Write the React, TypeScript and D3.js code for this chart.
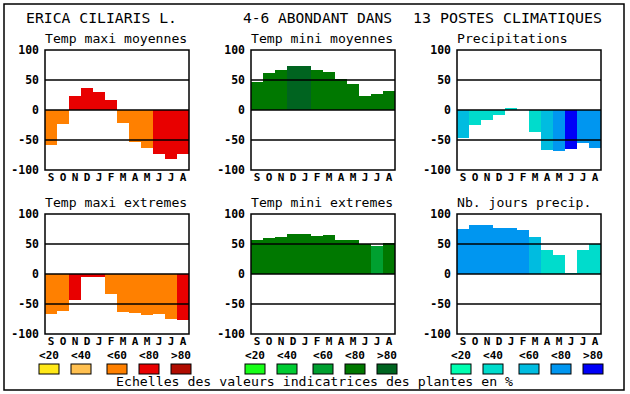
import React from "react";
import * as d3 from "d3";

const months = ["S", "O", "N", "D", "J", "F", "M", "A", "M", "J", "J", "A"];
const yTicks = [100, 50, 0, -50, -100];
const gridValues = [50, 0, -50];

const warmColors = ["#FFE818", "#FFC050", "#FF8000", "#E80000", "#B00C00"];
const greenColors = ["#18FF18", "#00CC33", "#00A030", "#007800", "#006420"];
const blueColors = ["#00FFB0", "#00DCCC", "#00BCE0", "#0096F0", "#0000F8"];
const classLabels = ["<20", "<40", "<60", "<80", ">80"];

// values and colour class index (0..4) per month
const tmaxMoyVals = [-58, -23, 23, 37, 30, 17, -21, -53, -64, -73, -81, -74];
const tmaxMoyCls = [2, 2, 3, 3, 3, 3, 2, 2, 2, 3, 3, 3];
const tminMoyVals = [47, 62, 67, 73, 73, 67, 63, 52, 43, 23, 27, 32];
const tminMoyCls = [3, 3, 3, 4, 4, 3, 3, 3, 3, 3, 3, 3];
const precVals = [-46, -25, -17, -8, 3, 0, -37, -67, -68, -65, -55, -63];
const precCls = [2, 1, 1, 1, 1, 1, 1, 2, 3, 4, 3, 3];
const tmaxExtVals = [-66, -62, -43, -5, -5, -33, -63, -65, -68, -67, -75, -77];
const tmaxExtCls = [2, 2, 3, 3, 3, 2, 2, 2, 2, 2, 2, 3];
const tminExtVals = [57, 60, 62, 67, 67, 63, 65, 57, 57, 50, 47, 52];
const tminExtCls = [3, 3, 3, 3, 3, 3, 3, 3, 3, 3, 2, 3];
const joursVals = [75, 82, 82, 77, 77, 73, 62, 40, 32, 2, 40, 50];
const joursCls = [3, 3, 3, 3, 3, 3, 2, 1, 1, 1, 1, 1];

const panels = [
  { title: "Temp maxi moyennes", vals: tmaxMoyVals, cls: tmaxMoyCls, pal: warmColors, col: 0, row: 0 },
  { title: "Temp mini moyennes", vals: tminMoyVals, cls: tminMoyCls, pal: greenColors, col: 1, row: 0 },
  { title: "Precipitations", vals: precVals, cls: precCls, pal: blueColors, col: 2, row: 0 },
  { title: "Temp maxi extremes", vals: tmaxExtVals, cls: tmaxExtCls, pal: warmColors, col: 0, row: 1 },
  { title: "Temp mini extremes", vals: tminExtVals, cls: tminExtCls, pal: greenColors, col: 1, row: 1 },
  { title: "Nb. jours precip.", vals: joursVals, cls: joursCls, pal: blueColors, col: 2, row: 1 },
];

const palettes = [warmColors, greenColors, blueColors];

const W = 630;
const H = 394;
const colLeft = [45, 251, 457];
const plotW = 144;
const rowTop = [50, 214];
const plotH = 120;
const legendBoxX = [
  [39, 71, 107, 139, 171],
  [245, 277, 313, 345, 377],
  [451, 483, 519, 551, 583],
];
const mono = "'DejaVu Sans Mono', monospace";

function Panel({ p }: { p: (typeof panels)[number] }) {
  const x0 = colLeft[p.col];
  const y0 = rowTop[p.row];
  const x = d3.scaleBand<number>().domain(d3.range(12)).range([x0, x0 + plotW]).padding(0);
  const y = d3.scaleLinear().domain([-100, 100]).range([y0 + plotH, y0]);
  return (
    <g>
      <text
        x={x0}
        y={y0 - 7}
        fontFamily={mono}
        fontSize={13}
        textLength={p.title.length * 7.9}
        lengthAdjust="spacingAndGlyphs"
      >
        {p.title}
      </text>
      {p.vals.map((v, i) => (
        <rect
          key={i}
          x={x(i)!}
          width={x.bandwidth()}
          y={Math.min(y(0), y(v))}
          height={Math.abs(y(v) - y(0))}
          fill={p.pal[p.cls[i]]}
          shapeRendering="crispEdges"
        />
      ))}
      {gridValues.map((g) => (
        <line key={g} x1={x0} x2={x0 + plotW} y1={y(g)} y2={y(g)} stroke="#000" strokeWidth={1.5} />
      ))}
      <rect x={x0} y={y0} width={plotW} height={plotH} fill="none" stroke="#000" strokeWidth={1.5} />
      {yTicks.map((t) => (
        <text
          key={t}
          x={x0 - 6}
          y={y(t) + 4}
          textAnchor="end"
          fontFamily={mono}
          fontWeight="bold"
          fontSize={11.5}
        >
          {t}
        </text>
      ))}
      {months.map((m, i) => (
        <text
          key={i}
          x={x(i)! + x.bandwidth() / 2}
          y={y(-100) + 10.5}
          textAnchor="middle"
          fontFamily={mono}
          fontWeight="bold"
          fontSize={11}
        >
          {m}
        </text>
      ))}
    </g>
  );
}

export default function App() {
  return (
    <svg width={W} height={H} style={{ position: "absolute", left: 0, top: 0, background: "#fff" }}>
      <rect x={0} y={0} width={W} height={H} fill="#fff" />
      <rect x={4} y={4} width={620} height={386} fill="none" stroke="#000" strokeWidth={1.5} />
      <text x={26} y={23} fontFamily={mono} fontSize={14} textLength={151} lengthAdjust="spacingAndGlyphs">
        ERICA CILIARIS L.
      </text>
      <text x={243} y={23} fontFamily={mono} fontSize={14} textLength={149} lengthAdjust="spacingAndGlyphs">
        4-6 ABONDANT DANS
      </text>
      <text x={413} y={23} fontFamily={mono} fontSize={14} textLength={189} lengthAdjust="spacingAndGlyphs">
        13 POSTES CLIMATIQUES
      </text>
      {panels.map((p, i) => (
        <Panel key={i} p={p} />
      ))}
      {palettes.map((pal, g) =>
        pal.map((c, k) => (
          <g key={`${g}-${k}`}>
            <text
              x={legendBoxX[g][k] + 10}
              y={359}
              textAnchor="middle"
              fontFamily={mono}
              fontWeight="bold"
              fontSize={11}
              textLength={20}
              lengthAdjust="spacingAndGlyphs"
            >
              {classLabels[k]}
            </text>
            <rect x={legendBoxX[g][k]} y={364} width={20} height={10} fill={c} stroke="#000" strokeWidth={1} />
          </g>
        ))
      )}
      <text x={116} y={386} fontFamily={mono} fontSize={13} textLength={397} lengthAdjust="spacingAndGlyphs">
        Echelles des valeurs indicatrices des plantes en %
      </text>
    </svg>
  );
}
